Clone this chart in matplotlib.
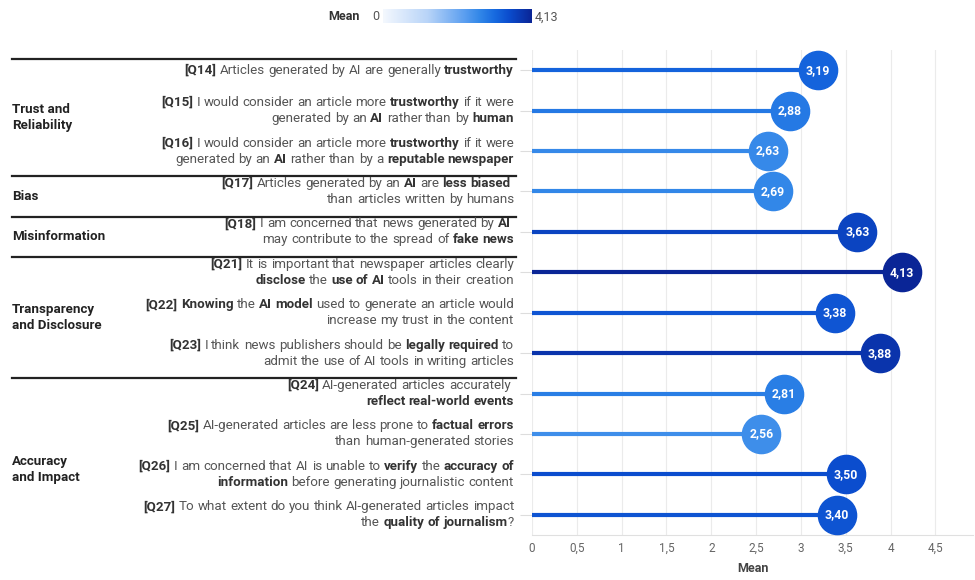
import re
import numpy as np
import matplotlib
matplotlib.use('Agg')
import matplotlib.pyplot as plt
from matplotlib.colors import LinearSegmentedColormap
from matplotlib.transforms import IdentityTransform, blended_transform_factory

plt.rcParams['font.family'] = ['Roboto', 'DejaVu Sans']

# dados
questions = [
    ["**[Q14]** Articles generated by AI are generally **trustworthy**"],
    ["**[Q15]** I would consider an article more **trustworthy** if it were",
     "generated by an **AI** rather than by **human**"],
    ["**[Q16]** I would consider an article more **trustworthy** if it were",
     "generated by an **AI** rather than by a **reputable newspaper**"],
    ["**[Q17]** Articles generated by an **AI** are **less biased** ",
     "than articles written by humans"],
    ["**[Q18]** I am concerned that news generated by **AI** ",
     "may contribute to the spread of **fake news**"],
    ["**[Q21]** It is important that newspaper articles clearly",
     "**disclose** the **use of AI** tools in their creation"],
    ["**[Q22] Knowing** the **AI model** used to generate an article would",
     "increase my trust in the content"],
    ["**[Q23]** I think news publishers should be **legally required** to",
     "admit the use of AI tools in writing articles"],
    ["**[Q24]** AI-generated articles accurately ",
     "**reflect real-world events**"],
    ["**[Q25]** AI-generated articles are less prone to **factual errors**",
     "than human-generated stories"],
    ["**[Q26]** I am concerned that AI is unable to **verify** the **accuracy of**",
     "**information** before generating journalistic content"],
    ["**[Q27]** To what extent do you think AI-generated articles impact",
     "the **quality of journalism**?"],
]
means = [3.19, 2.88, 2.63, 2.69, 3.63, 4.13, 3.38, 3.88, 2.81, 2.56, 3.50, 3.40]
groups = ["Trust and\nReliability", "Bias", "Misinformation",
          "Transparency\nand Disclosure", "Accuracy\nand Impact"]
group_sizes = [3, 1, 1, 3, 4]

cmap = LinearSegmentedColormap.from_list('blues', [
    (0.0, '#f4f8fe'), (0.3, '#b8d4f8'), (0.55, '#5a9ef0'), (0.65, '#3287e8'),
    (0.75, '#176ae0'), (0.85, '#0b4ccd'), (1.0, '#0a2596')])
vmax = 4.13

fig = plt.figure(figsize=(9.75, 5.8), dpi=100)
ax = fig.add_axes([532 / 975, 1 - 535 / 580, 1 - 532 / 975 - 0.002, 485 / 580])

n = len(means)
ypos = np.arange(n)
for y, v in zip(ypos, means):
    c = cmap(v / vmax)
    ax.plot([0, v], [y, y], color=c, lw=3, solid_capstyle='butt', zorder=2)
    ax.plot(v, y, 'o', ms=27.5, color=c, mec=c, zorder=3)
    ax.text(v, y, f"{v:.2f}".replace('.', ','), ha='center', va='center',
            color='white', fontsize=8.8, fontweight='bold', zorder=4)

ax.set_xlim(0, 4.92)
ax.set_ylim(n - 0.5, -0.5)
ticks = np.arange(0, 5, 0.5)
ax.set_xticks(ticks)
ax.set_xticklabels([f"{t:g}".replace('.', ',') for t in ticks])
ax.set_yticks(ypos)
ax.set_yticklabels([])
ax.tick_params(axis='y', length=9, color='#dddddd', width=0.8)
ax.tick_params(axis='x', length=0, labelsize=8.5, labelcolor='#666666', pad=5)
ax.grid(axis='x', color='#ebebeb', lw=0.8, zorder=0)
for s in ['top', 'right', 'left']:
    ax.spines[s].set_visible(False)
ax.spines['bottom'].set_color('#e0e0e0')
ax.set_xlabel('Mean', fontsize=9, fontweight='bold', color='#444444', labelpad=5)

# textos com partes em negrito
renderer = fig.canvas.get_renderer()
fs = 9.6


def width(s, bold):
    t = fig.text(0, 0, s, fontsize=fs, fontweight='bold' if bold else 'normal')
    w = t.get_window_extent(renderer).width
    t.remove()
    return w


space_w = width('a a', False) - width('aa', False)


def rich_line(x_right, y_disp, line):
    parts = line.split('**')
    tokens = []
    for i, p in enumerate(parts):
        for tok in re.findall(r'\S+|\s+', p):
            tokens.append((tok, i % 2 == 1))
    x = x_right
    for tok, bold in reversed(tokens):
        if tok.isspace():
            x -= space_w * len(tok)
            continue
        fig.text(x, y_disp, tok, transform=IdentityTransform(), ha='right',
                 va='center', fontsize=fs,
                 fontweight='bold' if bold else 'normal',
                 color='#333333' if bold else '#555555')
        x -= width(tok, bold)


for y, lines in zip(ypos, questions):
    yd = ax.transData.transform((0, y))[1]
    if len(lines) == 1:
        rich_line(514, yd, lines[0])
    else:
        rich_line(514, yd + 8, lines[0])
        rich_line(514, yd - 8, lines[1])

# grupos e separadores
btrans = blended_transform_factory(fig.transFigure, ax.transData)
bounds = []
start = 0
for size in group_sizes:
    bounds.append(start - 0.38 if start > 0 else -0.27)
    start += size
bounds.append(n - 0.5 + 0.64)
for i, g in enumerate(groups):
    top = bounds[i]
    fig.add_artist(plt.Line2D([12 / 975, 516 / 975], [top, top], transform=btrans,
                              color='#222222', lw=1.6, clip_on=False))
    mid = (bounds[i] + bounds[i + 1]) / 2
    fig.text(12 / 975, mid, g, transform=btrans, ha='left', va='center',
             fontsize=9.6, fontweight='bold', color='#222222', linespacing=1.3)

# legenda de cor
cax = fig.add_axes([383 / 975, 1 - 23 / 580, 149 / 975, 14 / 580])
cax.imshow(np.linspace(0, 1, 256)[None, :], aspect='auto', cmap=cmap)
cax.set_axis_off()
fig.text(360 / 975, 1 - 17 / 580, 'Mean', ha='right', va='center',
         fontsize=9, fontweight='bold', color='#333333')
fig.text(372 / 975, 1 - 17 / 580, '0', ha='left', va='center',
         fontsize=9, color='#555555')
fig.text(535 / 975, 1 - 17 / 580, '4,13', ha='left', va='center',
         fontsize=9, color='#555555')

fig.savefig('out.png', dpi=100)
